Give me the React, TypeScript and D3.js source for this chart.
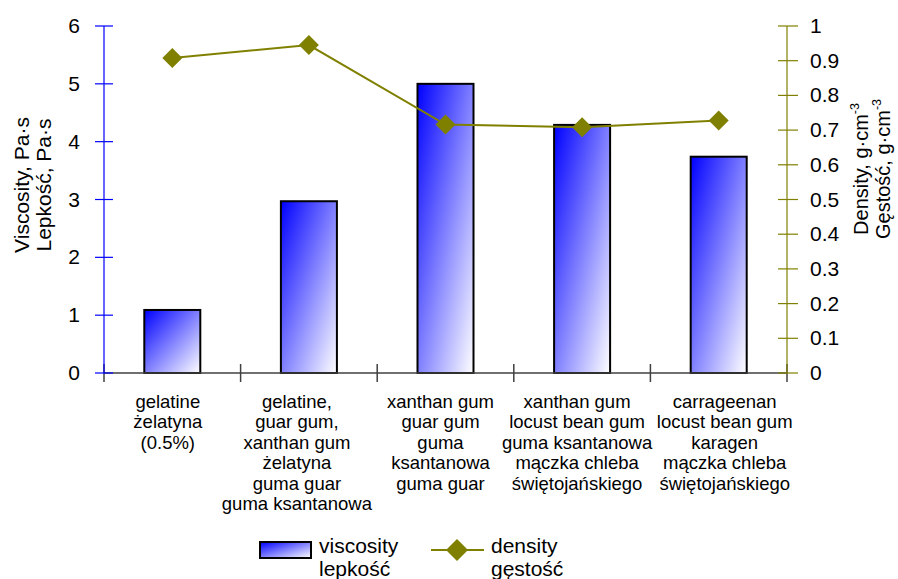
import React from "react";
import * as d3 from "d3";

// Categories (multi-line labels)
const categories: string[][] = [
  ["gelatine", "żelatyna", "(0.5%)"],
  ["gelatine,", "guar gum,", "xanthan gum", "żelatyna", "guma guar", "guma ksantanowa"],
  ["xanthan gum", "guar gum", "guma", "ksantanowa", "guma guar"],
  ["xanthan gum", "locust bean gum", "guma ksantanowa", "mączka chleba", "świętojańskiego"],
  ["carrageenan", "locust bean gum", "karagen", "mączka chleba", "świętojańskiego"],
];

// Viscosity, Pa·s
const viscosity: number[] = [1.09, 2.97, 5.0, 4.29, 3.74];
// Density, g·cm-3
const density: number[] = [0.908, 0.945, 0.716, 0.708, 0.728];

const viscosityTicks: number[] = [0, 1, 2, 3, 4, 5, 6];
const densityTicks: number[] = [0, 0.1, 0.2, 0.3, 0.4, 0.5, 0.6, 0.7, 0.8, 0.9, 1];

const W = 898;
const H = 579;
const left = 104;
const right = 787;
const top = 26;
const bottom = 373;
const FONT = "'Liberation Sans', Arial, sans-serif";
const OLIVE = "#808000";
const BLUE = "#0000ff";
const AXIS = "#404040";

// wrapped category labels are nudged sideways so wide lines don't collide
const labelNudge = [-4.5, -12, -5, -5, 6];

export default function App() {
  const idx = categories.map((_, i) => String(i));
  const x = d3
    .scaleBand<string>()
    .domain(idx)
    .range([left, right])
    .paddingInner(0.59)
    .paddingOuter(0.295);
  const catEdge = d3.scaleLinear().domain([0, categories.length]).range([left, right]);
  const yL = d3.scaleLinear().domain([0, 6]).range([bottom, top]);
  const yR = d3.scaleLinear().domain([0, 1]).range([bottom, top]);
  const cx = (i: number) => (x(String(i)) as number) + x.bandwidth() / 2;

  const line = d3
    .line<number>()
    .x((_, i) => cx(i))
    .y((d) => yR(d));

  const diamond = (s: number) => `M0,${-s}L${s},0L0,${s}L${-s},0Z`;

  return (
    <svg
      width={W}
      height={H}
      viewBox={`0 0 ${W} ${H}`}
      style={{ position: "absolute", left: 0, top: 0, background: "#fff" }}
      fontFamily={FONT}
    >
      <defs>
        <linearGradient id="barFill" x1="0" y1="0" x2="1" y2="1">
          <stop offset="0" stopColor={BLUE} />
          <stop offset="1" stopColor="#ffffff" />
        </linearGradient>
      </defs>

      {/* bars */}
      {viscosity.map((v, i) => (
        <rect
          key={`b${i}`}
          x={x(String(i))}
          y={yL(v)}
          width={x.bandwidth()}
          height={yL(0) - yL(v)}
          fill="url(#barFill)"
          stroke="#000"
          strokeWidth={2}
        />
      ))}

      {/* x axis */}
      <line x1={left} x2={right} y1={bottom} y2={bottom} stroke={AXIS} strokeWidth={1.5} />
      {d3.range(categories.length + 1).map((i) => (
        <line
          key={`xt${i}`}
          x1={catEdge(i)}
          x2={catEdge(i)}
          y1={bottom - 9}
          y2={bottom + 9}
          stroke={AXIS}
          strokeWidth={1.5}
        />
      ))}
      {categories.map((lines, i) => (
        <text key={`c${i}`} fontSize={18.5} textAnchor="middle" fill="#000">
          {lines.map((t, j) => (
            <tspan key={j} x={cx(i) + labelNudge[i]} y={408 + j * 20.4}>
              {t}
            </tspan>
          ))}
        </text>
      ))}

      {/* left axis */}
      <line x1={left} x2={left} y1={top} y2={bottom} stroke={BLUE} strokeWidth={1.2} />
      {viscosityTicks.map((t) => (
        <g key={`l${t}`}>
          <line x1={left - 9} x2={left + 9} y1={yL(t)} y2={yL(t)} stroke={BLUE} strokeWidth={1.2} />
          <text x={80} y={yL(t) + 7} fontSize={21} textAnchor="end" fill="#000">
            {t}
          </text>
        </g>
      ))}
      <text transform={`translate(28.5,185) rotate(-90)`} fontSize={21} textAnchor="middle" fill="#000">
        Viscosity, Pa·s
      </text>
      <text transform={`translate(50.5,185) rotate(-90)`} fontSize={21} textAnchor="middle" fill="#000">
        Lepkość, Pa·s
      </text>

      {/* right axis */}
      <line x1={right} x2={right} y1={top} y2={bottom} stroke={OLIVE} strokeWidth={1.2} />
      {densityTicks.map((t) => (
        <g key={`r${t}`}>
          <line x1={right - 9} x2={right + 11} y1={yR(t)} y2={yR(t)} stroke={OLIVE} strokeWidth={1.2} />
          <text x={810} y={yR(t) + 7} fontSize={21} textAnchor="start" fill="#000">
            {t}
          </text>
        </g>
      ))}
      <text transform={`translate(868,169) rotate(-90)`} fontSize={20} textAnchor="middle" fill="#000">
        Density, g·cm
        <tspan fontSize={12.5} dy={-9}>
          -3
        </tspan>
      </text>
      <text transform={`translate(890,169) rotate(-90)`} fontSize={20} textAnchor="middle" fill="#000">
        Gęstość, g·cm
        <tspan fontSize={12.5} dy={-9}>
          -3
        </tspan>
      </text>

      {/* density line */}
      <path d={line(density) || ""} fill="none" stroke={OLIVE} strokeWidth={2} />
      {density.map((d, i) => (
        <path key={`m${i}`} d={diamond(10)} transform={`translate(${cx(i)},${yR(d)})`} fill={OLIVE} />
      ))}

      {/* legend */}
      <rect x={260} y={542} width={51} height={16} fill="url(#barFill)" stroke="#000" strokeWidth={2} />
      <text fontSize={21} fill="#000">
        <tspan x={319} y={553}>viscosity</tspan>
        <tspan x={319} y={576}>lepkość</tspan>
      </text>
      <line x1={431} x2={484} y1={550} y2={550} stroke={OLIVE} strokeWidth={2} />
      <path d={diamond(11)} transform="translate(457,550)" fill={OLIVE} />
      <text fontSize={21} fill="#000">
        <tspan x={491} y={553}>density</tspan>
        <tspan x={491} y={576}>gęstość</tspan>
      </text>
    </svg>
  );
}
